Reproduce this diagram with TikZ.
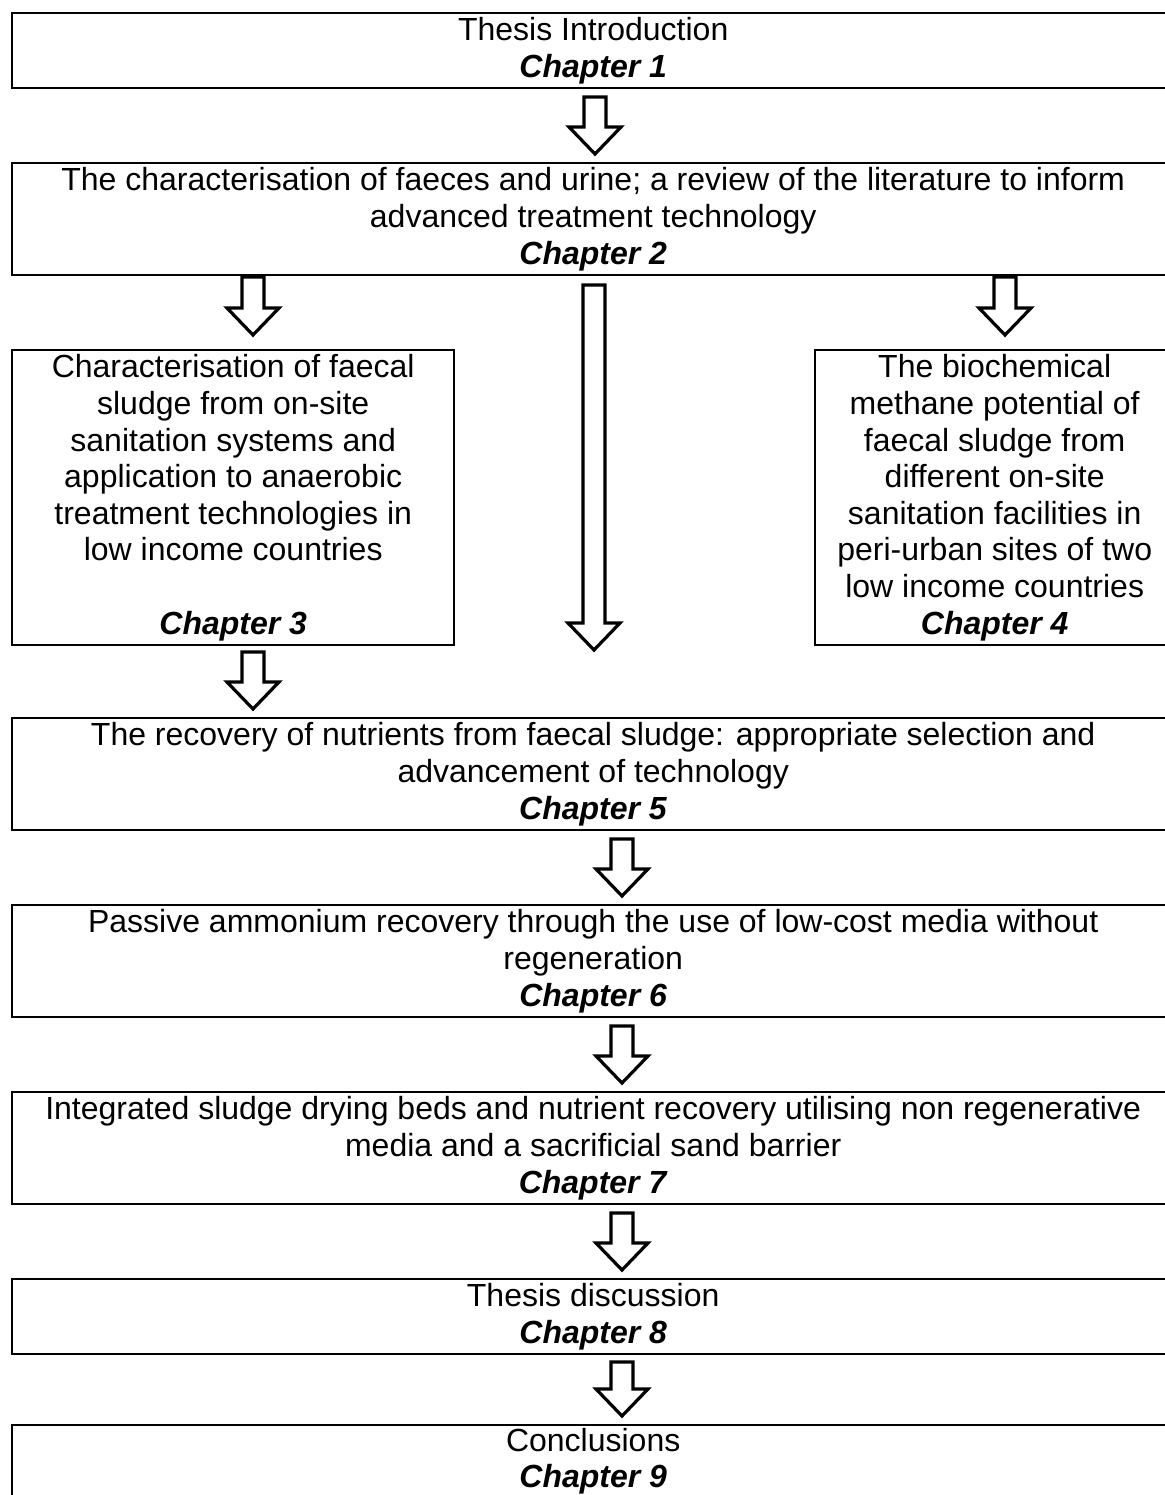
\documentclass[tikz,border=0pt]{standalone}
\usepackage{fontspec}
\setmainfont{Liberation Sans}
\newcommand{\chap}[1]{\textbf{\textit{Chapter #1}}}
\newcommand{\blockarrow}[3]{%
  \draw[barrow] ({#1-11},#2) -- ({#1+11},#2) -- ({#1+11},{#3-27}) -- ({#1+26},{#3-27})
    -- (#1,#3) -- ({#1-26},{#3-27}) -- ({#1-11},{#3-27}) -- cycle;}
\begin{document}
\begin{tikzpicture}[x=0.5pt,y=-0.5pt,
  box/.style={draw=black, line width=1.2pt, fill=white, rectangle, inner sep=0pt,
    anchor=north west, align=center, font=\fontsize{16}{18.3}\selectfont},
  wide/.style={box, minimum width=581pt},
  barrow/.style={draw=black, fill=white, line width=1.6pt, line join=miter}]
\useasboundingbox (0,0) rectangle (1164,1495);
\node[wide, minimum height=37.5pt] (b1) at (11,12) {Thesis Introduction\\ \chap{1}};
\node[wide, minimum height=56pt] (b2) at (11,162) {The characterisation of faeces and urine; a review of the literature to inform\\ advanced treatment technology\\ \chap{2}};
\node[box, minimum width=221pt, minimum height=147.5pt] (b3) at (11,349) {Characterisation of faecal\\ sludge from on-site\\ sanitation systems and\\ application to anaerobic\\ treatment technologies in\\ low income countries\\ \strut\\ \chap{3}};
\node[box, minimum width=179.5pt, minimum height=147.5pt] (b4) at (814,349) {The biochemical\\ methane potential of\\ faecal sludge from\\ different on-site\\ sanitation facilities in\\ peri-urban sites of two\\ low income countries\\ \chap{4}};
\node[wide, minimum height=56pt] (b5) at (11,717) {The recovery of nutrients from faecal sludge: appropriate selection and\\ advancement of technology\\ \chap{5}};
\node[wide, minimum height=56pt] (b6) at (11,904) {Passive ammonium recovery through the use of low-cost media without\\ regeneration\\ \chap{6}};
\node[wide, minimum height=56pt] (b7) at (11,1091) {Integrated sludge drying beds and nutrient recovery utilising non regenerative\\ media and a sacrificial sand barrier\\ \chap{7}};
\node[wide, minimum height=37.5pt] (b8) at (11,1278) {Thesis discussion\\ \chap{8}};
\node[wide, minimum height=36pt] (b9) at (11,1424) {Conclusions\\ \chap{9}};
\blockarrow{595}{97}{154}
\blockarrow{253}{277}{335}
\blockarrow{1005}{277}{335}
\blockarrow{594}{285}{650}
\blockarrow{253}{652}{709}
\blockarrow{622}{839}{896}
\blockarrow{622}{1026}{1083}
\blockarrow{622}{1213}{1270}
\blockarrow{622}{1362}{1416}
\end{tikzpicture}
\end{document}
